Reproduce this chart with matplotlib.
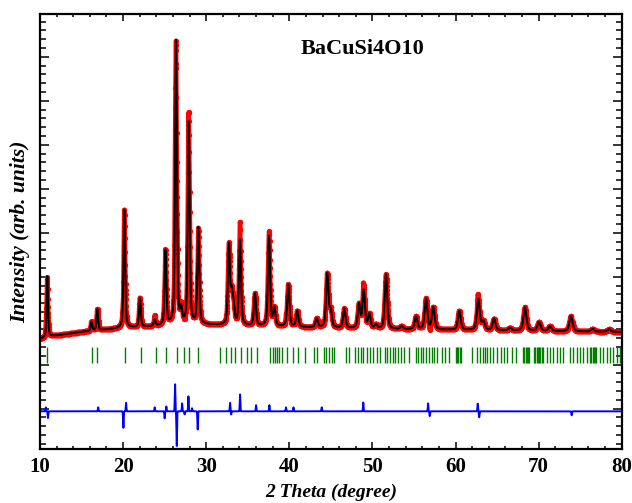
import matplotlib
matplotlib.use('Agg')
import matplotlib.pyplot as plt
from matplotlib.ticker import MultipleLocator
import numpy as np

# background control points (2theta, counts)
bg_tt = [10.0, 11.5, 15.0, 20.0, 25.0, 30.0, 40.0, 50.0, 60.0, 70.0, 80.0]
bg_val = [584, 652, 743, 834, 880, 903, 857, 811, 789, 766, 743]

# fitted reflections: position and height above background
peak_tt = [10.88, 16.2, 16.9, 20.15, 22.03, 23.8, 25.1, 26.37, 27.0, 27.9,
           29.05, 32.74, 33.07, 33.3, 34.07, 35.87, 37.56, 38.2, 39.88, 40.96,
           43.3, 44.57, 44.98, 46.62, 48.39, 48.95, 49.63, 50.43, 51.64, 53.52,
           55.25, 56.45, 57.33, 60.46, 62.75, 63.35, 64.64, 66.56, 68.36, 70.05,
           71.37, 73.9, 76.5, 78.5]
peak_h = [1380, 211, 480, 2700, 660, 143, 1700, 6500, 300, 4600,
          2200, 1800, 650, 380, 1950, 730, 2050, 400, 960, 360,
          200, 1220, 380, 440, 540, 860, 320, 90, 1240, 70,
          290, 700, 500, 430, 700, 190, 260, 60, 530, 200,
          110, 350, 60, 60]

# obs - calc misfit features (position, amplitude)
diff_tt = [10.7, 10.95, 17.0, 20.03, 20.35, 23.8, 25.0, 25.2, 26.25, 26.45,
           27.1, 27.4, 27.86, 28.3, 28.97, 32.87, 33.0, 34.07, 36.0, 37.6,
           39.6, 40.5, 43.9, 48.9, 56.7, 56.9, 62.67, 62.85, 73.98]
diff_amp = [90, -160, 90, -390, 200, 90, -160, 110, 640, -820,
            180, -70, 340, 70, -430, 200, -70, 400, 140, 140,
            90, 90, 90, 200, 180, -110, 180, -140, -90]
diff_zero = -1060

# Bragg reflection positions
bragg_tt = [10.88, 16.22, 16.90, 20.23, 22.11, 23.96, 25.16, 26.53, 27.33, 27.97,
            29.05, 31.66, 32.38, 32.94, 33.47, 34.15, 34.95, 35.39, 36.07, 37.68,
            38.0, 38.24, 38.56, 38.80, 39.08, 39.68, 40.40, 41.09, 41.89, 42.97,
            43.29, 44.18, 44.42, 44.74, 45.10, 45.38, 46.83, 47.23, 47.91, 48.31,
            48.59, 48.91, 49.31, 49.71, 50.03, 50.52, 50.92, 51.52, 51.80, 52.12,
            52.44, 52.76, 53.12, 53.40, 53.81, 54.45, 55.25, 55.53, 55.81, 56.13,
            56.45, 56.77, 57.13, 57.42, 57.82, 58.34, 58.74, 59.22, 60.06, 60.2,
            60.35, 60.5, 60.64, 61.95, 62.63, 62.95, 63.27, 63.55, 63.83, 64.15,
            64.55, 64.96, 65.44, 65.84, 66.24, 66.76, 67.28, 68.17, 68.3, 68.45,
            68.6, 68.75, 68.9, 69.45, 69.6, 69.75, 69.9, 70.05, 70.2, 70.35,
            70.5, 70.97, 71.37, 71.78, 72.18, 72.58, 72.98, 73.78, 74.18, 74.58,
            74.98, 75.39, 75.79, 76.2, 76.35, 76.5, 76.65, 76.8, 76.95, 77.39,
            77.79, 78.19, 78.59, 78.99, 79.4, 79.8]
bragg_lo, bragg_hi = 46, 402


def pvoigt(x, x0, fwhm, eta=0.5):
    s = fwhm / 2.0
    g = np.exp(-np.log(2) * ((x - x0) / s) ** 2)
    l = 1.0 / (1.0 + ((x - x0) / s) ** 2)
    return eta * l + (1 - eta) * g


tt = np.arange(10.0, 80.0001, 0.02)
calc = np.interp(tt, bg_tt, bg_val).astype(float)
for p, h in zip(peak_tt, peak_h):
    calc += h * pvoigt(tt, p, 0.19 + 0.004 * (p - 10))

diff = np.zeros_like(tt)
for p, a in zip(diff_tt, diff_amp):
    diff += a * np.exp(-((tt - p) / 0.05) ** 2)
obs = calc + diff

plt.rcParams['font.family'] = ['Liberation Serif', 'DejaVu Serif']

fig = plt.figure(figsize=(6.32, 5.03), dpi=100)
ax = fig.add_axes([0.0633, 0.1074, 0.9204, 0.8648])

# observed: red trace with dots on top
ax.plot(tt, obs, '-', color='#ff0000', lw=3.2, solid_capstyle='round', zorder=2)
ax.plot(tt, obs, 'o', color='#ff0000', ms=3.8, mec='none', zorder=2)
ax.plot(tt, calc, '-', color='black', lw=1.4, zorder=3)
ax.vlines(bragg_tt, bragg_lo, bragg_hi, color='#008000', lw=1.0, zorder=2)
ax.plot(tt, diff + diff_zero, '-', color='#0000ff', lw=1.4, zorder=2)

ax.text(0.555, 0.92, 'BaCuSi4O10', transform=ax.transAxes, fontsize=16,
        fontweight='bold', ha='center', va='center')

ax.set_xlim(10, 80)
ax.set_ylim(-1916, 7972)
ax.xaxis.set_major_locator(MultipleLocator(10))
ax.xaxis.set_minor_locator(MultipleLocator(2))
ax.yaxis.set_major_locator(MultipleLocator(1000))
ax.yaxis.set_minor_locator(MultipleLocator(200))
ax.tick_params(which='both', direction='in', top=True, right=True, width=1.1)
ax.tick_params(axis='x', which='major', length=5, labelsize=15, pad=6)
ax.tick_params(axis='x', which='minor', length=2.5)
ax.tick_params(axis='y', which='major', length=6.5)
ax.tick_params(axis='y', which='minor', length=4.5)
ax.set_yticklabels([])
for lab in ax.get_xticklabels():
    lab.set_fontweight('bold')
for s in ax.spines.values():
    s.set_linewidth(1.6)

ax.set_xlabel('2 Theta (degree)', fontsize=14, fontweight='bold', style='italic')
ax.xaxis.set_label_coords(0.5, -0.08)
ax.set_ylabel('Intensity (arb. units)', fontsize=15.5, fontweight='bold', style='italic')
ax.yaxis.set_label_coords(-0.016, 0.5)

fig.savefig('out.png', dpi=100)
